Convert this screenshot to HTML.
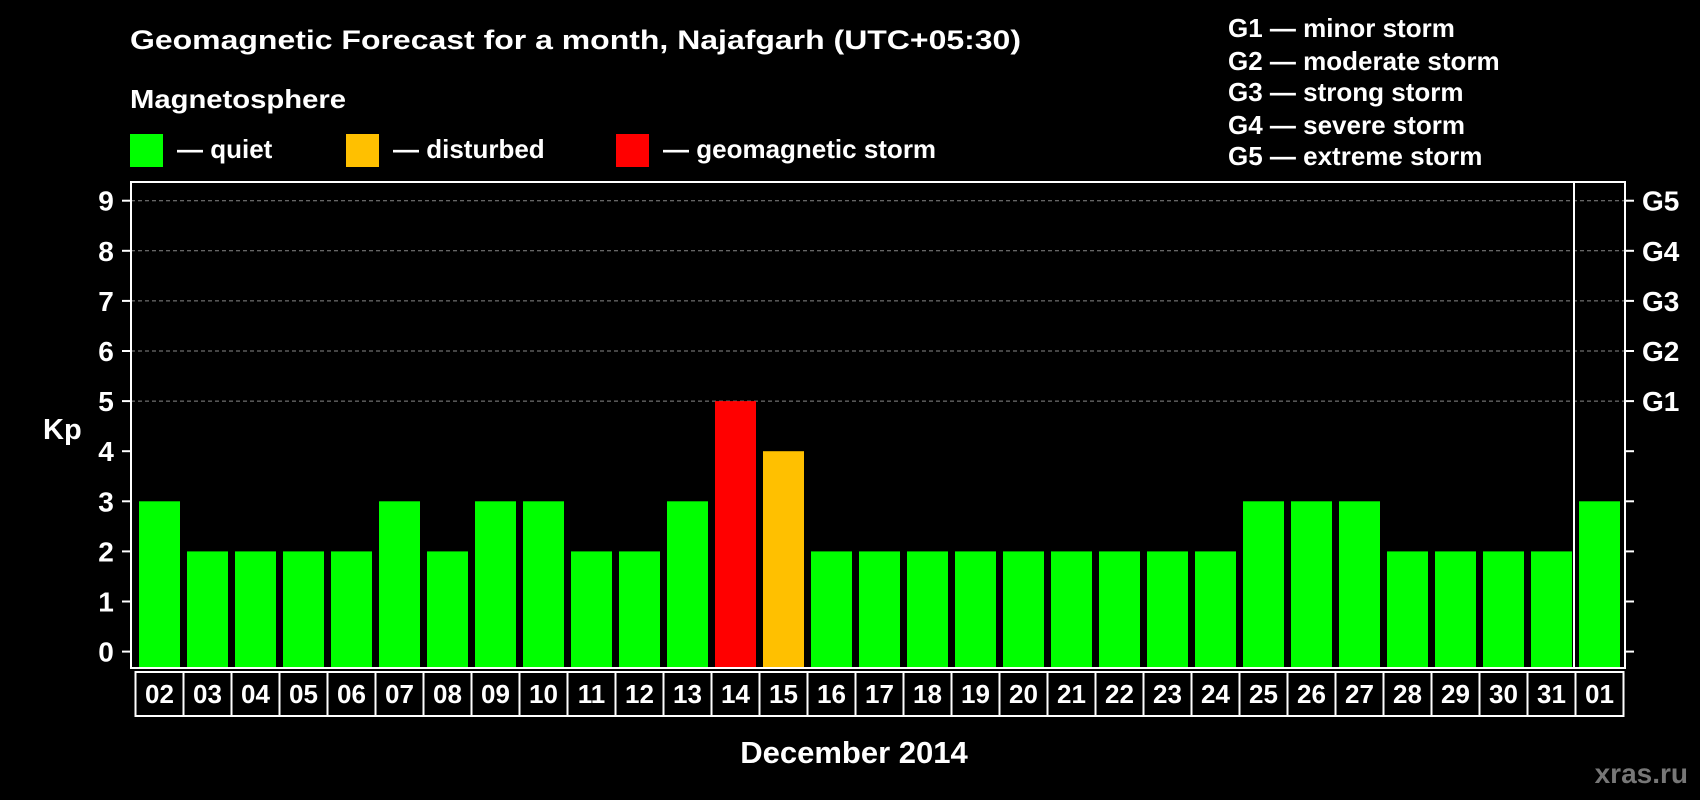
<!DOCTYPE html>
<html><head><meta charset="utf-8"><style>
html,body{margin:0;padding:0;background:#000;}
svg{display:block;font-family:"Liberation Sans",Arial,sans-serif;font-weight:bold;}
</style></head><body>
<svg id="chart" width="1700" height="800" viewBox="0 0 1700 800" xmlns="http://www.w3.org/2000/svg">
<rect x="0" y="0" width="1700" height="800" fill="#000"/>
<text x="130" y="49" fill="#fff" font-size="27" textLength="891" lengthAdjust="spacingAndGlyphs">Geomagnetic Forecast for a month, Najafgarh (UTC+05:30)</text>
<text x="130" y="108" fill="#fff" font-size="26" textLength="216" lengthAdjust="spacingAndGlyphs">Magnetosphere</text>
<g>
<rect x="130" y="134" width="33" height="33" fill="#00ff00"/>
<text x="177" y="158" fill="#fff" font-size="26">— quiet</text></g>
<g>
<rect x="346" y="134" width="33" height="33" fill="#ffc000"/>
<text x="393" y="158" fill="#fff" font-size="26">— disturbed</text></g>
<g>
<rect x="616" y="134" width="33" height="33" fill="#ff0000"/>
<text x="663" y="158" fill="#fff" font-size="26">— geomagnetic storm</text></g>
<g fill="#fff" font-size="26">
<text x="1228" y="37">G1 — minor storm</text>
<text x="1228" y="70">G2 — moderate storm</text>
<text x="1228" y="101">G3 — strong storm</text>
<text x="1228" y="134">G4 — severe storm</text>
<text x="1228" y="165">G5 — extreme storm</text>
</g>
<g id="grid"></g><g id="bars"></g><g id="axes"></g>
<text x="43" y="439" fill="#fff" font-size="29">Kp</text>
<text x="854" y="763" fill="#fff" font-size="31" text-anchor="middle">December 2014</text>
<text x="1688" y="783" fill="#777" font-size="28" text-anchor="end">xras.ru</text>
</svg>
<script>
const days = ["02","03","04","05","06","07","08","09","10","11","12","13","14","15","16","17","18","19","20","21","22","23","24","25","26","27","28","29","30","31","01"];
const kpValues = [3,2,2,2,2,3,2,3,3,2,2,3,5,4,2,2,2,2,2,2,2,2,2,3,3,3,2,2,2,2,3];
const yTicks = [0,1,2,3,4,5,6,7,8,9];
const gLabels = ["G1","G2","G3","G4","G5"];
const gLevels = [5,6,7,8,9];
const NS="http://www.w3.org/2000/svg";
const L=131,R=1625,T=182,B=668;
const y=v=>651.6-50.1*v;
const x=i=>135.5+48*i;
function mk(tag,attrs,parent){const e=document.createElementNS(NS,tag);for(const k in attrs)e.setAttribute(k,attrs[k]);parent.appendChild(e);return e;}
const grid=document.getElementById('grid'),bars=document.getElementById('bars'),axes=document.getElementById('axes');
gLevels.forEach((g,i)=>{
 const ln=mk('line',{x1:L,x2:R,y1:y(g),y2:y(g),stroke:'#888','stroke-width':1,'stroke-dasharray':'4,3'},grid);
 
 
 const t=mk('text',{x:1642,y:y(g)+10,fill:'#fff','font-size':28},axes);
 t.textContent=gLabels[i];
 
 
});
kpValues.forEach((v,i)=>{
 const c=v>=5?'#ff0000':(v>=4?'#ffc000':'#00ff00');
 const r=mk('rect',{x:x(i)+3.5,y:y(v),width:41,height:B-y(v),fill:c},bars);
 
 
 const cell=mk('rect',{x:x(i),y:B+4,width:48,height:44,fill:'none',stroke:'#fff','stroke-width':2},axes);
 
 
 const t=mk('text',{x:x(i)+24,y:B+35,fill:'#fff','font-size':26,'text-anchor':'middle'},axes);
 t.textContent=days[i];
 
 
});
const frame=mk('rect',{x:L,y:T,width:R-L,height:B-T,fill:'none',stroke:'#fff','stroke-width':2},axes);


const div=mk('line',{x1:1574,x2:1574,y1:T,y2:B,stroke:'#fff','stroke-width':2},axes);


yTicks.forEach(v=>{
 const a=mk('line',{x1:122,x2:L,y1:y(v),y2:y(v),stroke:'#fff','stroke-width':2},axes);
 
 
 const b=mk('line',{x1:R,x2:1634,y1:y(v),y2:y(v),stroke:'#fff','stroke-width':2},axes);
 
 
 const t=mk('text',{x:106,y:y(v)+10,fill:'#fff','font-size':28,'text-anchor':'middle'},axes);
 t.textContent=v;
 
 
});
</script>
</body></html>
